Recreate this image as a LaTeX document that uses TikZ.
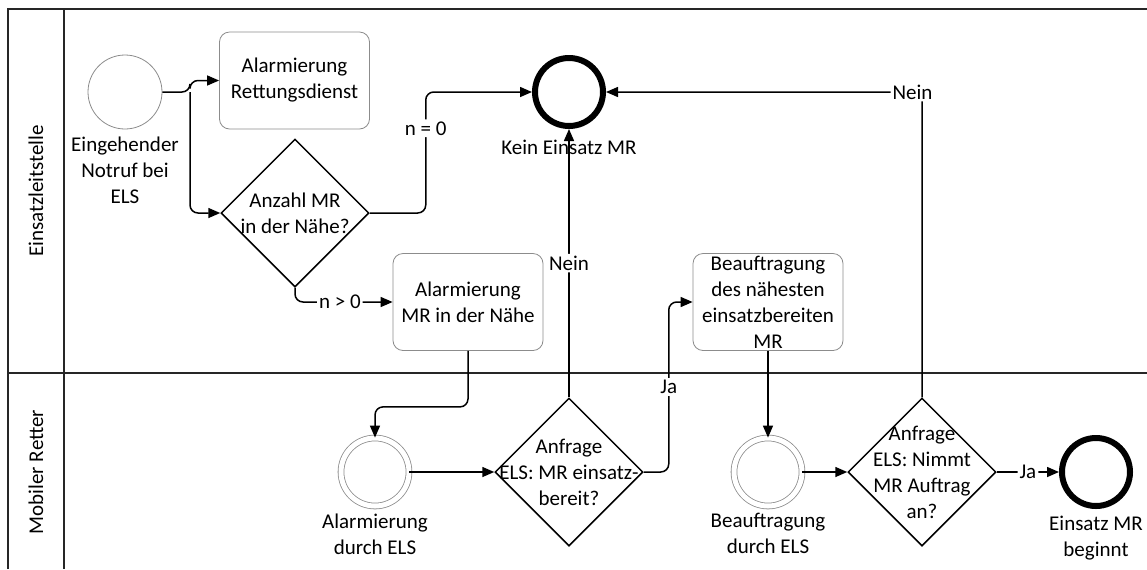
\documentclass[tikz,border=0pt]{standalone}
\usepackage{fontspec}
\setmainfont{Carlito}
\usetikzlibrary{shapes.geometric,arrows.meta,positioning,calc}

\begin{document}
\begin{tikzpicture}[x=0.5pt,y=-0.5pt,
    font=\fontsize{10.5}{13}\selectfont,
    lane/.style={line width=1pt,draw=black!85},
    task/.style={draw=black!45,rounded corners=5pt,minimum width=75pt,minimum height=48.5pt,align=center,inner sep=0pt},
    gate/.style={draw,diamond,aspect=1,minimum width=74pt,minimum height=74pt,inner sep=0pt,line width=0.75pt},
    startev/.style={draw=black!45,circle,minimum size=37pt,inner sep=0pt},
    interev/.style={draw=black!45,circle,double,double distance=2.5pt,minimum size=34pt,inner sep=0pt},
    endev/.style={draw,circle,line width=3pt,minimum size=34pt,inner sep=0pt},
    flow/.style={line width=0.75pt,-{Triangle[length=6pt,width=5pt]},rounded corners=4pt},
    lbl/.style={fill=white,inner sep=1pt},
    gtext/.style={align=center,inner sep=0pt}]
    \useasboundingbox (0,0) rectangle (1147,569);
    % lanes
    \draw[lane] (8,569) -- (8,9) -- (1147,9);
    \draw[lane] (64,9) -- (64,569);
    \draw[lane] (8,373) -- (1147,373);
    \node[rotate=90] (lane1) at (36,191) {Einsatzleitstelle};
    \node[rotate=90] (lane2) at (36,472) {Mobiler Retter};

    % Einsatzleitstelle
    \node[startev,label={[align=center]below:Eingehender\\Notruf bei\\ELS}] (start) at (125,92) {};
    \node[task] (rd) at (294.5,80.5) {Alarmierung\\Rettungsdienst};
    \node[gate,label={[gtext]center:Anzahl MR\\in der Nähe?}] (d1) at (295,213) {};
    \node[endev,label={[label distance=2pt]below:Kein Einsatz MR}] (kein) at (569,92) {};
    \node[task] (am) at (468,302) {Alarmierung\\MR in der Nähe};
    \node[task] (ba) at (768,302) {Beauftragung\\des nähesten\\einsatzbereiten\\MR};

    % Mobiler Retter
    \node[interev,label={[align=center]below:Alarmierung\\durch ELS}] (ae) at (375,472) {};
    \node[gate,label={[gtext]center:Anfrage\\ELS: MR einsatz-\\bereit?}] (d2) at (569,472) {};
    \node[interev,label={[align=center]below:Beauftragung\\durch ELS}] (be) at (768,472) {};
    \node[gate,label={[gtext]center:Anfrage\\ELS: Nimmt\\MR Auftrag\\an?}] (d3) at (922,472) {};
    \node[endev,label={[align=center]below:Einsatz MR\\beginnt}] (ee) at (1096,472) {};

    % flows
    \coordinate (fork) at (190,92);
    \draw[flow] (start.east) -- (fork) |- (rd.west);
    \draw[flow] (fork) |- (d1.west);
    \draw[flow] (d1.east) -- ++(56,0) |- node[lbl,pos=0.35] {n = 0} (kein.west);
    \draw[flow] (d1.south) |- node[lbl,pos=0.73] {n > 0} (am.west);
    \draw[flow] (am.south) -- ++(0,56) -| (ae.north);
    \draw[flow] (ae.east) -- (d2.west);
    \draw[flow] (d2.north) -- node[lbl] {Nein} (kein.south);
    \draw[flow] (d2.east) -- ++(25,0) |- node[lbl,pos=0.25] {Ja} (ba.west);
    \draw[flow] (ba.south) -- (be.north);
    \draw[flow] (be.east) -- (d3.west);
    \draw[flow] (d3.north) |- node[lbl,pos=0.515] {Nein} (kein.east);
    \draw[flow] (d3.east) -- node[lbl] {Ja} (ee.west);
\end{tikzpicture}
\end{document}
